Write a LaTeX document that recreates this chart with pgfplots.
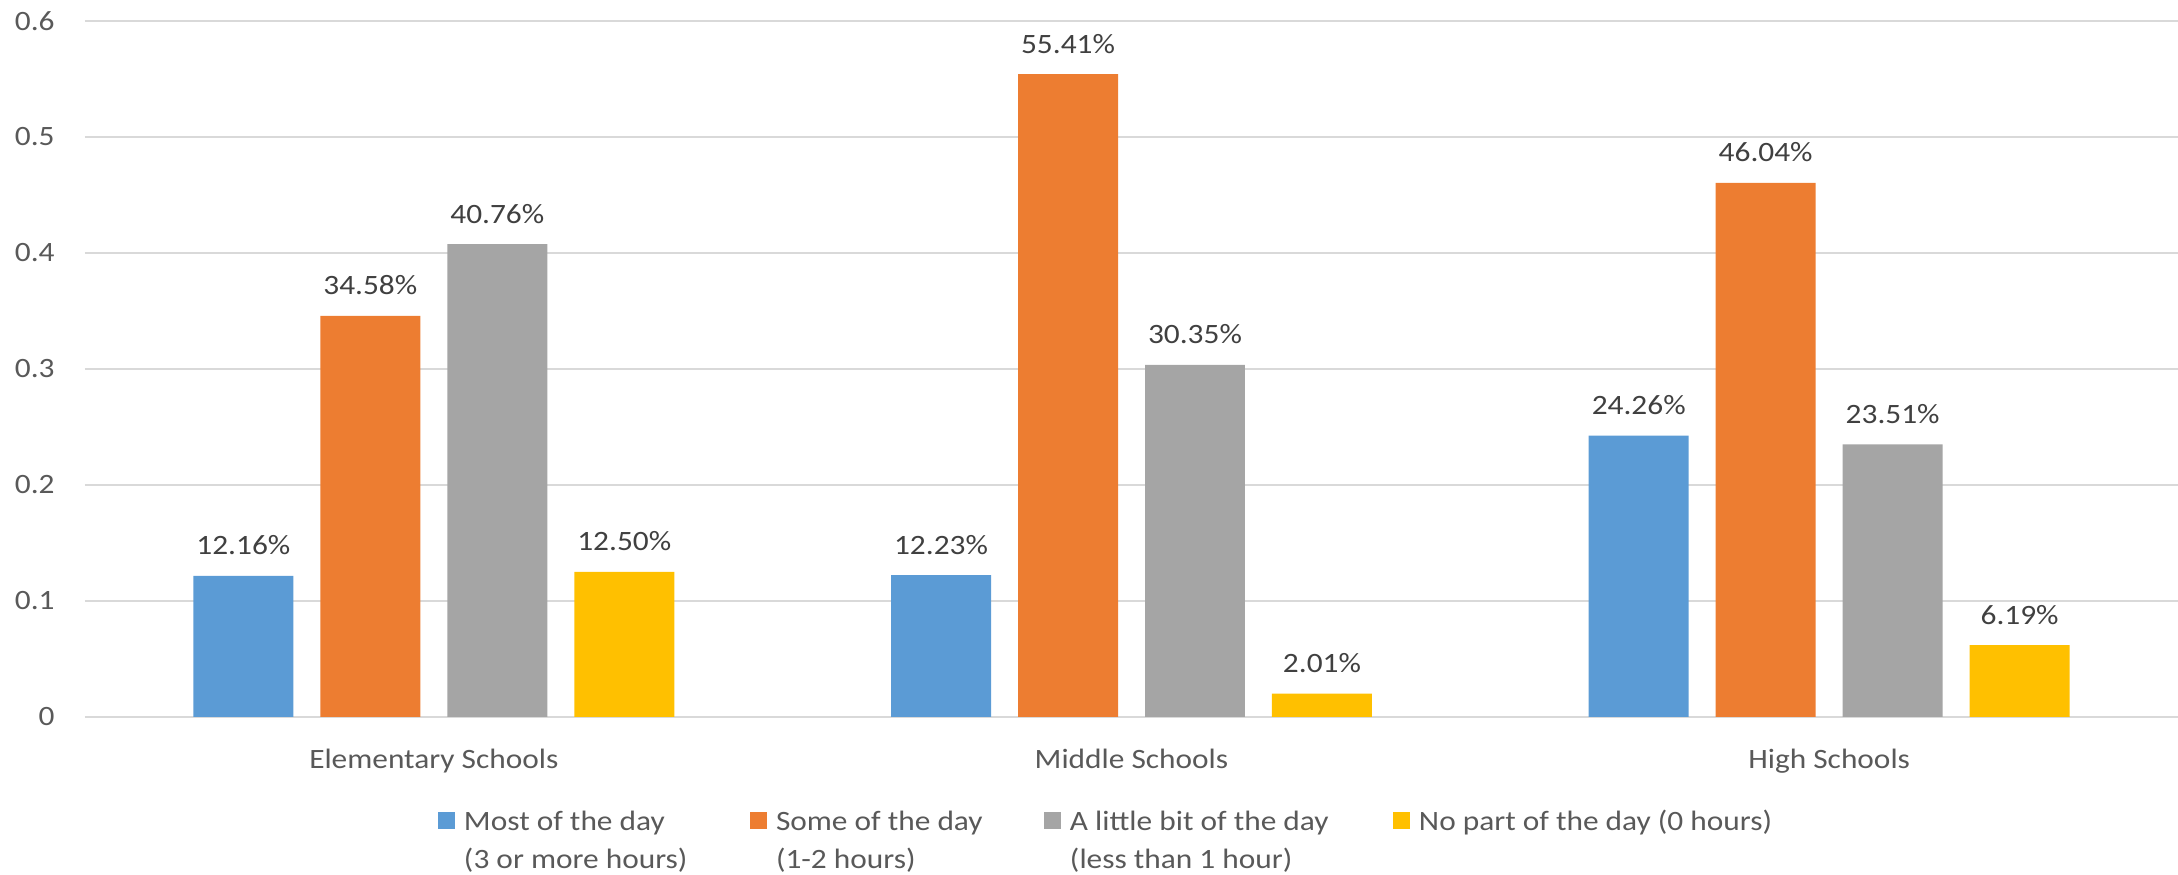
\documentclass[border=0pt]{standalone}
\usepackage{fontspec}
\setmainfont{Carlito}[FakeStretch=1.12]
\usepackage{pgfplots}
\usepackage{pgfplotstable}
\usetikzlibrary{calc}
\pgfplotsset{compat=1.18}
\definecolor{cblue}{HTML}{5B9BD5}
\definecolor{corange}{HTML}{ED7D31}
\definecolor{cgray}{HTML}{A5A5A5}
\definecolor{cyellow}{HTML}{FFC000}
\definecolor{gridc}{HTML}{D9D9D9}
\definecolor{tickc}{HTML}{595959}
\definecolor{labelc}{HTML}{404040}
\pgfplotstableread{
x y label
0 0.1216 12.16\%
1 0.1223 12.23\%
2 0.2426 24.26\%
}\most
\pgfplotstableread{
x y label
0 0.3458 34.58\%
1 0.5541 55.41\%
2 0.4604 46.04\%
}\some
\pgfplotstableread{
x y label
0 0.4076 40.76\%
1 0.3035 30.35\%
2 0.2351 23.51\%
}\little
\pgfplotstableread{
x y label
0 0.1250 12.50\%
1 0.0201 2.01\%
2 0.0619 6.19\%
}\nopart
\begin{document}
\begin{tikzpicture}
\begin{axis}[name=ax, at={(0,0)}, anchor=south west,
  scale only axis, width=1046.5pt, height=348pt,
  xmin=-0.5, xmax=2.5, ymin=0, ymax=0.6,
  ytick={0,0.1,0.2,0.3,0.4,0.5,0.6},
  xtick={0,1,2}, xticklabels={Elementary Schools, Middle Schools, High Schools},
  axis line style={draw=none}, tick style={draw=none}, major tick length=0pt,
  ymajorgrids, grid style={color=gridc, line width=0.8pt},
  font=\fontsize{14}{17}\selectfont,
  tick label style={text=tickc, font=\fontsize{14}{17}\selectfont},
  /pgf/number format/assume math mode=true,
  yticklabel style={anchor=east, inner sep=0pt, xshift=-15pt},
  xticklabel style={anchor=base, inner sep=0pt, yshift=-26pt},
  ybar, bar width=0.1433,
  nodes near coords, point meta=explicit symbolic,
  every node near coord/.append style={anchor=base, yshift=10.5pt, inner sep=0pt, text=labelc, font=\fontsize{14}{17}\selectfont},
  legend style={at={(axis description cs:0.16866,-0.1336)}, anchor=north west,
    draw=none, fill=none, inner sep=0pt, outer sep=0pt, legend columns=4,
    nodes={inner sep=0pt, text=tickc, font=\fontsize{14}{17}\selectfont},
    cells={anchor=base west},
    /tikz/every odd column/.style={column sep=4.5pt},
    /tikz/every even column/.style={column sep=0pt}},
  legend image code/.code={\fill[#1] (0pt,0.75pt) rectangle (8.5pt,9.25pt);},
]
\addplot[fill=cblue, draw=none, bar shift=-0.273] table[x=x, y=y, meta=label] {\most};
\addlegendentry{\parbox[t]{143pt}{\baselineskip=19pt Most of the day\\(3 or more hours)\par}}
\addplot[fill=corange, draw=none, bar shift=-0.091] table[x=x, y=y, meta=label] {\some};
\addlegendentry{\parbox[t]{134pt}{\baselineskip=19pt Some of the day\\(1-2 hours)\par}}
\addplot[fill=cgray, draw=none, bar shift=0.091] table[x=x, y=y, meta=label] {\little};
\addlegendentry{\parbox[t]{161.5pt}{\baselineskip=19pt A little bit of the day\\(less than 1 hour)\par}}
\addplot[fill=cyellow, draw=none, bar shift=0.273] table[x=x, y=y, meta=label] {\nopart};
\addlegendentry{\parbox[t]{185pt}{\baselineskip=19pt No part of the day (0 hours)\par}}
\end{axis}
\pgfresetboundingbox
\path[use as bounding box] (ax.south west) ++(-42.5pt,-79pt) rectangle ($(ax.north east)+(0pt,10.5pt)$);
\end{tikzpicture}
\end{document}
